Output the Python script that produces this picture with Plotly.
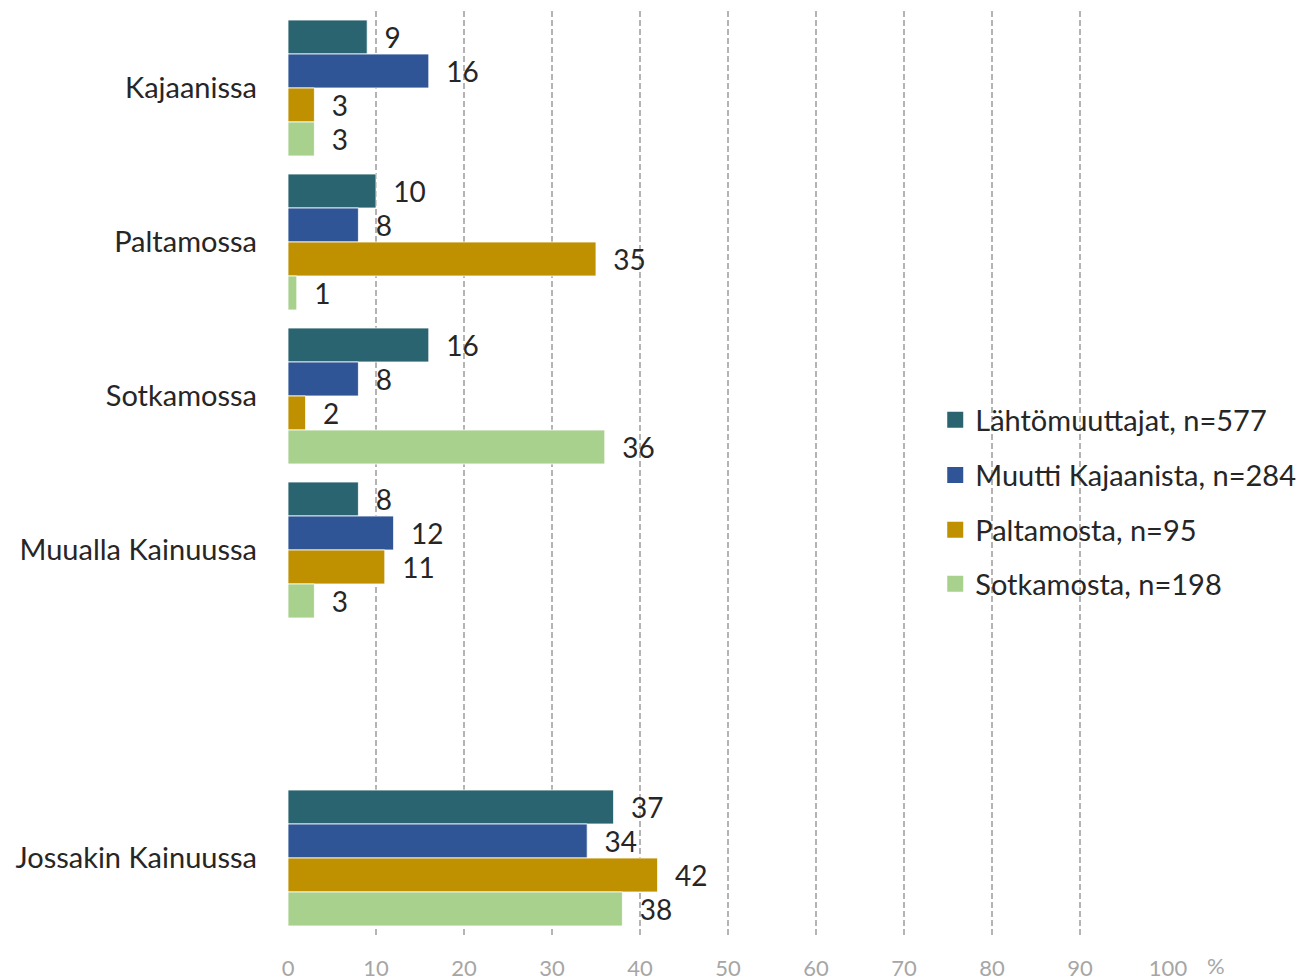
import plotly.graph_objects as go

categories = ["Kajaanissa", "Paltamossa", "Sotkamossa", "Muualla Kainuussa", " ", "Jossakin Kainuussa"]
series_names = ["Lähtömuuttajat, n=577", "Muutti Kajaanista, n=284", "Paltamosta, n=95", "Sotkamosta, n=198"]
lahto = [9, 10, 16, 8, None, 37]
kajaani = [16, 8, 8, 12, None, 34]
paltamo = [3, 35, 2, 11, None, 42]
sotkamo = [3, 1, 36, 3, None, 38]
tick_vals = [0, 10, 20, 30, 40, 50, 60, 70, 80, 90, 100]

colors = ["#2A6470", "#2F5597", "#BF9000", "#A9D18E"]
FONT = "Lato"
legend_ids = ["legend", "legend2", "legend3", "legend4"]
legend_y = [0.5574, 0.4978, 0.4383, 0.3799]

fig = go.Figure()
for name, vals, col in zip(series_names, [lahto, kajaani, paltamo, sotkamo], colors):
    fig.add_trace(go.Bar(
        y=categories, x=vals, name=name, orientation="h", showlegend=False,
        marker=dict(color=col, line=dict(color="rgba(255,255,255,0.8)", width=1)),
        text=[("\u00a0\u00a0" + str(v)) if v is not None else "" for v in vals],
        textposition="outside", cliponaxis=False,
        textfont=dict(family=FONT, size=28, color="#262626"),
        hoverinfo="skip",
    ))
for name, col, lid in zip(series_names, colors, legend_ids):
    fig.add_trace(go.Scatter(
        x=[None], y=[None], mode="markers", name=name, legend=lid, showlegend=True,
        marker=dict(symbol="square", size=16, color=col), hoverinfo="skip",
    ))

layout_legends = {}
for lid, ly in zip(legend_ids, legend_y):
    layout_legends[lid] = dict(x=0.7355, y=ly, xanchor="left", yanchor="middle",
                               font=dict(family=FONT, size=29, color="#262626"),
                               itemsizing="trace", bgcolor="rgba(0,0,0,0)",
                               borderwidth=0, itemwidth=30)

fig.update_layout(
    width=1300, height=972,
    margin=dict(l=280, r=140, t=3, b=45, autoexpand=False),
    barmode="group", bargap=0.117, bargroupgap=0,
    plot_bgcolor="white", paper_bgcolor="white",
    font=dict(family=FONT, color="#262626"),
    showlegend=True,
    **layout_legends,
)
fig.update_xaxes(range=[0, 100], tickvals=tick_vals, showgrid=True, automargin=False,
                 gridcolor="#B4B4B4", griddash="6px,3px", gridwidth=1.5,
                 zeroline=False, showline=False, ticks="", ticklabelstandoff=18,
                 tickfont=dict(family=FONT, size=22, color="#A6A6A6"))
fig.update_yaxes(autorange="reversed", showgrid=False, zeroline=False, showline=False,
                 ticks="", ticklabelstandoff=30, automargin=False,
                 tickfont=dict(family=FONT, size=29, color="#262626"))
fig.add_annotation(x=1.0, y=0, xref="paper", yref="paper", xanchor="left", yanchor="middle",
                   text="%", showarrow=False, xshift=37, yshift=-30,
                   font=dict(family=FONT, size=22, color="#A6A6A6"))

fig.write_html("out.html")
